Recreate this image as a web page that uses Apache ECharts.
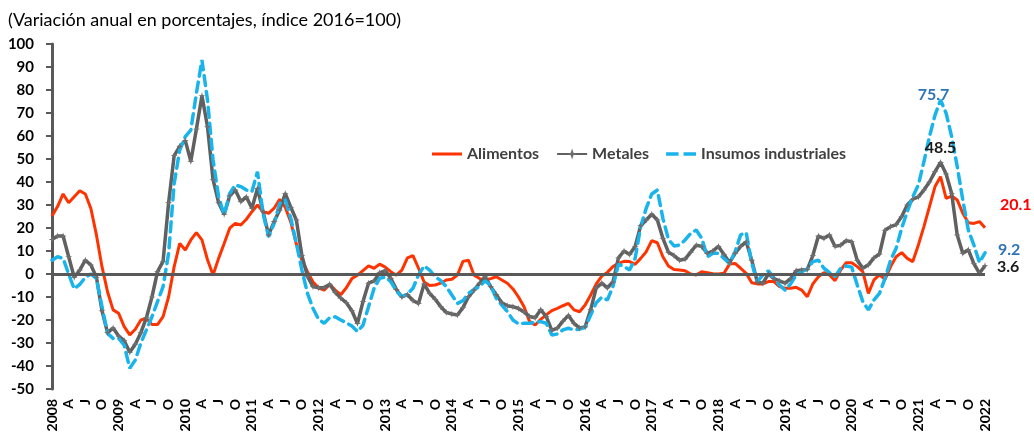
<!DOCTYPE html>
<html>
<head>
<meta charset="utf-8">
<script src="https://cdn.jsdelivr.net/npm/echarts@6/dist/echarts.min.js"></script>
<style>
  html, body { margin: 0; padding: 0; background: #fff; }
  #myChart { width: 1034px; height: 435px; }
</style>
</head>
<body>
<div id="myChart"></div>
<script>
// Years shown on the axis; data runs monthly from Jan 2008 to Jan 2022
var years = [2008, 2009, 2010, 2011, 2012, 2013, 2014, 2015, 2016, 2017, 2018, 2019, 2020, 2021, 2022];
// Quarter letters for April, July, October (month index -> label)
var quarterLabels = { 3: 'A', 6: 'J', 9: 'O' };

// Alimentos (annual % change), one row per year
var alimentos = [
  25.2, 29.3, 34.8, 31, 33.6, 36.2, 34.8, 28.5, 17, 3.2, -7.7, -15.6,
  -17.1, -22.9, -26.5, -24, -20, -19.3, -22, -22, -18.5, -9.9, 3.2, 13.3,
  10.4, 14.8, 18, 14.8, 6.2, -0.4, 6.8, 13.3, 19.9, 22, 21.3, 23.8,
  27.1, 30, 27.1, 26.4, 28.6, 32.5, 29, 22.5, 13, 6, 1, -3.5,
  -6, -7, -4.5, -7, -9, -6, -2, -0.5, 1.5, 3.5, 2.5, 4.3,
  3, 1, -0.5, 1.7, 7, 8, 2.5, -3.5, -5, -4.8, -4, -2.6,
  -2.3, -0.5, 5.5, 6, -0.5, -2, -2.6, -2, -1.2, -2.6, -4, -6.5,
  -10, -14.2, -20.7, -22.2, -19.7, -17.8, -15.9, -14.9, -13.8, -12.8, -15.6, -16.4,
  -13.5, -9.1, -4.3, -0.9, 0.7, 3.2, 4.6, 5.5, 5.4, 4.2, 6.8, 9.7,
  14.5, 13.6, 7.5, 3.5, 2, 1.7, 1.4, 0, -0.4, 1, 0.6, 0.1,
  0, 0.3, 4.3, 4.6, 2.5, 0.3, -3.8, -4.3, -4.3, -3.3, -3.3, -5.5,
  -6.2, -6.2, -5.8, -7, -9.9, -4.3, -1.2, 0.6, -0.4, -2.9, 1.7, 4.9,
  4.9, 3.2, 1, -8.4, -2.6, -0.4, -2.3, 3.2, 7.5, 9.3, 6.8, 5.4,
  12.6, 20.6, 29.3, 38, 42.3, 32.9, 33.9, 32.2, 26.4, 22.3, 22, 22.8,
  20.1
];

// Metales
var metales = [
  15, 16.5, 16.5, 7.5, -1.4, 1.7, 6, 3.9, -1.4, -16, -25.5, -23.5,
  -27, -29, -34, -30.5, -25.5, -19, -10, 1, 5.5, 31, 51.5, 55.5,
  58, 49, 63, 77.5, 64, 41, 31, 26, 34, 36.5, 31.5, 33.5,
  28.6, 37.2, 27.1, 17, 22.8, 27.8, 35, 29, 23.5, 8, -1, -5.5,
  -6, -6, -4.5, -8, -10.5, -12.5, -16, -21.5, -12, -4, -3, 0.5,
  1.5, -1.9, -6.7, -10, -9, -11.5, -12.8, -4.3, -8.4, -11, -14.2, -16.7,
  -17.4, -17.8, -14.6, -9.9, -7, -4, -1.2, -5.5, -9, -12.5, -13.8, -14.2,
  -15, -16.5, -18.5, -19, -15.5, -18.5, -24.5, -23.5, -20.5, -18, -21.5, -23.5,
  -23, -15.5, -6, -4, -6, -3.5, 7, 10, 8.5, 12, 21, 23.5,
  26, 23.5, 15.5, 9.5, 8, 6, 6.5, 9.5, 12.5, 12, 9, 10,
  12, 8.5, 5, 9, 12, 14, 6, -3.5, -4, 0, -2, -3,
  -4, -2, 1.4, 1.7, 2, 8, 16.5, 15.5, 17, 12, 12.5, 14.5,
  14, 6, 2.5, 4, 7, 8.7, 19, 20.6, 21.5, 25, 30, 32.5,
  33.5, 36.5, 40, 44.5, 48.5, 43.5, 35, 17, 9, 10.5, 4.5, 0.3,
  3.6
];

// Insumos industriales
var insumos = [
  6, 7.5, 6.8, 0, -6.5, -4.5, -1.5, 0, -2, -14.2, -25.8, -28,
  -28, -30.9, -41, -37.4, -30, -24.3, -18.6, -12, -5.5, 9, 39.4, 53.9,
  59.7, 62.6, 78.6, 93, 75.7, 49.6, 33.6, 25.7, 35, 38.7, 38, 36.5,
  35.8, 44.5, 26.4, 16.2, 22, 30.7, 32.2, 24.2, 13.3, 1.7, -8.4, -15,
  -19.7, -21.4, -19, -18.6, -20, -21.2, -22.6, -25, -22.3, -14.2, -6.2, -1.9,
  -1.2, -3.3, -7.4, -9.9, -8.7, -6.2, -0.4, 3.5, 1.7, -1.2, -2.9, -5.5,
  -9.1, -12.8, -11.6, -8.4, -6.7, -5.5, -2.9, -5.2, -10.6, -13.5, -16.4, -20,
  -21.7, -21.4, -21.4, -21, -20.7, -21.4, -26.5, -26.1, -24.3, -23.6, -24.3, -24,
  -23.2, -17.8, -12.5, -10.1, -11.3, -5.5, 4.3, 3.2, 1.7, 6.8, 20.6, 28.6,
  34.8, 36.5, 24.2, 15.1, 12.2, 12.6, 14.8, 17.7, 19.1, 15.5, 7.5, 9,
  9, 6.8, 4.6, 9.7, 17, 18, 4.6, -3.3, -0.4, 1.4, -1.9, -4.8,
  -7, -4.3, -0.4, 1, 2.2, 5.4, 6, 2.5, 0.6, -1.2, 2.5, 3.5,
  3, -4.8, -12, -15.6, -11.3, -8.4, -1.9, 6, 11.2, 19.9, 27.1, 33.6,
  38.7, 48.8, 59.7, 69.1, 75.7, 69.9, 59.7, 46.7, 32.2, 19.1, 12.6, 5,
  9.2
];

// Build the monthly categories (YYYY-MM) to match the data length
var months = [];
years.forEach(function (y) {
  for (var m = 1; m <= 12; m++) {
    if (months.length < alimentos.length) {
      months.push(y + '-' + (m < 10 ? '0' + m : m));
    }
  }
});

// Peak month annotated in the chart (May 2021)
var peakMonth = '2021-05';
var peakIndex = months.indexOf(peakMonth);

var FONT = 'Lato, Carlito, "Liberation Sans", sans-serif';

// Legend icons drawn as plain line shapes (30x14 box, zero-size corners keep the box)
var solidIcon = 'path://M0,0L0,0.01ZM30,14L30,13.99ZM0,5.5L30,5.5L30,8.5L0,8.5Z';
var dashIcon = 'path://M0,0L0,0.01ZM30,14L30,13.99ZM0,5.25L12.5,5.25L12.5,8.75L0,8.75ZM17.5,5.25L30,5.25L30,8.75L17.5,8.75Z';

var myChart = echarts.init(document.getElementById('myChart'));

var option = {
  animation: false,
  textStyle: { fontFamily: FONT },
  title: {
    text: '(Variación anual en porcentajes, índice 2016=100)',
    left: 3,
    top: 6,
    textStyle: { fontFamily: FONT, fontSize: 18, fontWeight: 'normal', color: '#000' }
  },
  legend: {
    left: 427,
    top: 141,
    itemWidth: 30,
    itemHeight: 14,
    itemGap: 17,
    textStyle: { fontFamily: FONT, fontSize: 16, fontWeight: 'bold', color: '#404040' },
    data: [
      { name: 'Alimentos', icon: solidIcon },
      { name: 'Metales' },
      { name: 'Insumos industriales', icon: dashIcon }
    ]
  },
  grid: { left: 52, right: 49, top: 44, bottom: 46, containLabel: false },
  xAxis: {
    type: 'category',
    boundaryGap: false,
    data: months,
    axisLine: { show: false },
    axisTick: { show: false },
    axisLabel: {
      interval: 0,
      rotate: 90,
      margin: 10,
      fontFamily: FONT,
      fontSize: 14,
      fontWeight: 'bold',
      color: '#000',
      formatter: function (val) {
        var parts = val.split('-');
        var mi = parseInt(parts[1], 10) - 1;
        if (mi === 0) return parts[0];
        return quarterLabels[mi] || '';
      }
    },
    splitLine: { show: false }
  },
  yAxis: {
    type: 'value',
    min: -50,
    max: 100,
    interval: 10,
    axisLine: { show: true, lineStyle: { color: '#595959', width: 3 } },
    axisTick: { show: true, inside: false, length: 6, lineStyle: { color: '#595959', width: 2 } },
    axisLabel: { margin: 18, fontFamily: FONT, fontSize: 15, fontWeight: 'bold', color: '#000' },
    splitLine: { show: false }
  },
  series: [
    {
      name: 'Alimentos',
      type: 'line',
      data: alimentos,
      symbol: 'none',
      lineStyle: { color: '#FF3300', width: 3 },
      itemStyle: { color: '#FF3300' },
      endLabel: {
        show: true,
        offset: [7, -23],
        fontFamily: FONT,
        fontSize: 16,
        fontWeight: 'bold',
        color: '#FF0000',
        formatter: function (p) { return p.value; }
      },
      markLine: {
        silent: true,
        symbol: 'none',
        label: { show: false },
        lineStyle: { color: '#595959', width: 3, type: 'solid' },
        data: [{ yAxis: 0 }]
      }
    },
    {
      name: 'Metales',
      type: 'line',
      data: metales,
      showSymbol: true,
      showAllSymbol: true,
      symbol: 'path://M0,-5L1.2,-1.2L5,0L1.2,1.2L0,5L-1.2,1.2L-5,0L-1.2,-1.2Z',
      symbolSize: 7,
      lineStyle: { color: '#606060', width: 3.5 },
      itemStyle: { color: '#6e6e6e' },
      endLabel: {
        show: true,
        offset: [4, 1],
        fontFamily: FONT,
        fontSize: 16,
        fontWeight: 'bold',
        color: '#1a1a1a',
        formatter: function (p) { return p.value; }
      },
      markPoint: {
        symbol: 'circle',
        symbolSize: 0,
        label: {
          show: true,
          position: 'top',
          distance: 7,
          fontFamily: FONT,
          fontSize: 16,
          fontWeight: 'bold',
          color: '#1a1a1a',
          formatter: function (p) { return p.value; }
        },
        data: [{ coord: [peakMonth, metales[peakIndex]], value: metales[peakIndex] }]
      }
    },
    {
      name: 'Insumos industriales',
      type: 'line',
      data: insumos,
      symbol: 'none',
      lineStyle: { color: '#1AB4EC', width: 3.5, type: [10, 6], cap: 'round' },
      itemStyle: { color: '#1AB4EC' },
      endLabel: {
        show: true,
        offset: [5, -3],
        fontFamily: FONT,
        fontSize: 16,
        fontWeight: 'bold',
        color: '#2E75B6',
        formatter: function (p) { return p.value; }
      },
      markPoint: {
        symbol: 'circle',
        symbolSize: 0,
        label: {
          show: true,
          position: 'top',
          distance: 5,
          offset: [-7, 8],
          fontFamily: FONT,
          fontSize: 16,
          fontWeight: 'bold',
          color: '#2E75B6',
          formatter: function (p) { return p.value; }
        },
        data: [{ coord: [peakMonth, insumos[peakIndex]], value: insumos[peakIndex] }]
      }
    }
  ]
};

myChart.setOption(option);
</script>
</body>
</html>
